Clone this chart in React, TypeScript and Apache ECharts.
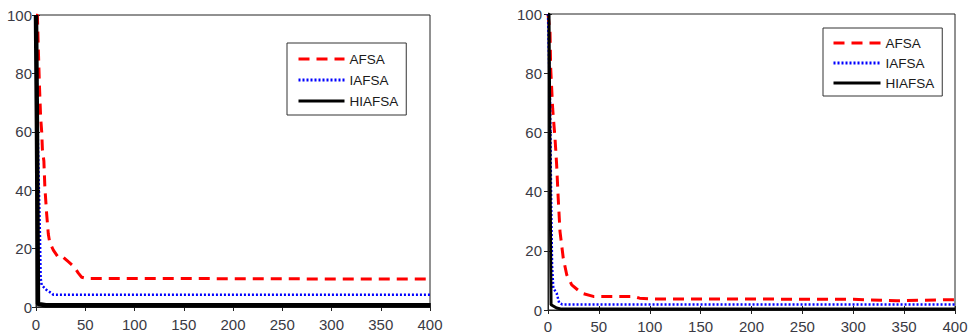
import React, { useEffect, useRef } from "react";
import * as echarts from "echarts";

// Left panel (x = iteration, y = value)
const leftAFSA: [number, number][] = [
  [0, 100], [1.4, 100], [2.4, 88], [3.4, 76.7], [4.7, 65], [5.8, 60], [6.5, 54], [8, 50],
  [9, 41], [10.8, 32], [12.5, 25], [14, 22], [17.6, 19.5], [22.6, 17], [27.7, 17],
  [32.8, 15.5], [38.6, 13.8], [43, 11.6], [46.4, 10.2], [51.5, 9.8], [100, 9.8],
  [200, 9.7], [300, 9.6], [400, 9.6],
];
const leftIAFSA: [number, number][] = [
  [0, 100], [1.4, 66], [2.4, 48], [4, 25], [4.7, 10], [5.8, 7.5], [10.8, 5.8],
  [15.9, 4.7], [17.6, 4.2], [100, 4.2], [200, 4.2], [300, 4.2], [400, 4.2],
];
const leftHIAFSA: [number, number][] = [
  [0, 100], [1, 60], [2, 1], [10, 0.6], [400, 0.6],
];

// Right panel
const rightAFSA: [number, number][] = [
  [0, 100], [2, 93.7], [2.6, 82], [4.6, 68], [6.9, 58], [8.5, 49], [10, 38], [11.8, 26.5],
  [15, 17.5], [18.4, 11.9], [23.3, 8.5], [33, 5.7], [44.5, 4.6], [61, 4.6], [84, 4.6],
  [90, 4], [103, 3.7], [200, 3.7], [300, 3.6], [343, 3.1], [370, 3.3], [400, 3.5],
];
const rightIAFSA: [number, number][] = [
  [0, 100], [2, 70], [3, 40], [4, 15], [5.2, 7.4], [8.5, 5.7], [11, 2.4], [14, 1.9],
  [100, 1.9], [200, 1.9], [300, 1.9], [400, 1.9],
];
const rightHIAFSA: [number, number][] = [
  [0, 100], [1, 100], [2, 50], [3, 1.8], [8.5, 0.7], [13.4, 0.3], [400, 0.3],
];

const xTicks = { min: 0, max: 400, interval: 50 };
const yTicks = { min: 0, max: 100, interval: 20 };
const names = ["AFSA", "IAFSA", "HIAFSA"];

const FONT = "'Liberation Sans', Arial, sans-serif";
const LABEL_COLOR = "#3a3a44";

export default function App() {
  const ref = useRef<HTMLDivElement>(null);
  useEffect(() => {
    if (!ref.current) return;
    const chart = echarts.init(ref.current, undefined, { renderer: "svg" });

    const mainX = (gridIndex: number, margin: number) => ({
      type: "value",
      gridIndex,
      ...xTicks,
      axisLine: { show: true, lineStyle: { color: "#222", width: 1 } },
      axisTick: { show: true, inside: true, length: 4, lineStyle: { color: "#222" } },
      axisLabel: { fontFamily: FONT, fontSize: 15, color: LABEL_COLOR, margin },
      splitLine: { show: false },
    });
    const mainY = (gridIndex: number, margin: number) => ({
      type: "value",
      gridIndex,
      ...yTicks,
      axisLine: { show: true, lineStyle: { color: "#222", width: 1 } },
      axisTick: { show: true, inside: true, length: 4, lineStyle: { color: "#222" } },
      axisLabel: { fontFamily: FONT, fontSize: 15, color: LABEL_COLOR, margin },
      splitLine: { show: false },
    });
    const mirrorX = (gridIndex: number) => ({
      type: "value",
      gridIndex,
      position: "top",
      ...xTicks,
      axisLine: { show: false },
      axisTick: { show: true, inside: true, length: 4, lineStyle: { color: "#222" } },
      axisLabel: { show: false },
      splitLine: { show: false },
    });
    const mirrorY = (gridIndex: number) => ({
      type: "value",
      gridIndex,
      position: "right",
      ...yTicks,
      axisLine: { show: false },
      axisTick: { show: true, inside: true, length: 4, lineStyle: { color: "#222" } },
      axisLabel: { show: false },
      splitLine: { show: false },
    });

    const mk = (name: string, data: [number, number][], xi: number, yi: number, blackW: number) => {
      const style: any =
        name === "AFSA"
          ? { color: "#ff0000", width: 3, type: [11, 7] }
          : name === "IAFSA"
          ? { color: "#0000ff", width: 2.5, type: [2, 2] }
          : { color: "#000000", width: blackW, type: "solid" };
      return {
        name,
        type: "line",
        xAxisIndex: xi,
        yAxisIndex: yi,
        data,
        symbol: "none",
        lineStyle: style,
        itemStyle: { color: style.color },
      };
    };

    const legendBase = {
      orient: "vertical",
      data: names,
      itemHeight: 14,
      backgroundColor: "#fff",
      borderColor: "#333",
      borderWidth: 1,
      borderRadius: 0,
      itemStyle: { color: "rgba(0,0,0,0)", borderWidth: 0, opacity: 0 },
      lineStyle: { width: 3 },
      textStyle: { fontFamily: FONT, fontSize: 13.5, color: "#1a1a1a" },
    };

    chart.setOption({
      animation: false,
      backgroundColor: "#fff",
      grid: [
        { left: 36, top: 15, width: 394, height: 292, show: true, borderColor: "#222", borderWidth: 1 },
        { left: 548, top: 14, width: 407, height: 298, show: true, borderColor: "#222", borderWidth: 1 },
      ],
      xAxis: [mainX(0, 10), mirrorX(0), mainX(1, 9), mirrorX(1)],
      yAxis: [mainY(0, 4), mirrorY(0), mainY(1, 6), mirrorY(1)],
      legend: [
        { ...legendBase, left: 287, top: 43, itemWidth: 46, itemGap: 7, padding: [9, 8, 7, 10] },
        { ...legendBase, left: 823, top: 28, itemWidth: 47, itemGap: 6, padding: [8, 8, 6, 9] },
      ],
      series: [
        mk("AFSA", leftAFSA, 0, 0, 4.5),
        mk("IAFSA", leftIAFSA, 0, 0, 4.5),
        mk("HIAFSA", leftHIAFSA, 0, 0, 4.5),
        mk("AFSA", rightAFSA, 2, 2, 3),
        mk("IAFSA", rightIAFSA, 2, 2, 3),
        mk("HIAFSA", rightHIAFSA, 2, 2, 3),
      ],
    });
    return () => chart.dispose();
  }, []);
  return (
    <div
      ref={ref}
      style={{ position: "fixed", left: 0, top: 0, width: 972, height: 334, background: "#fff" }}
    />
  );
}
